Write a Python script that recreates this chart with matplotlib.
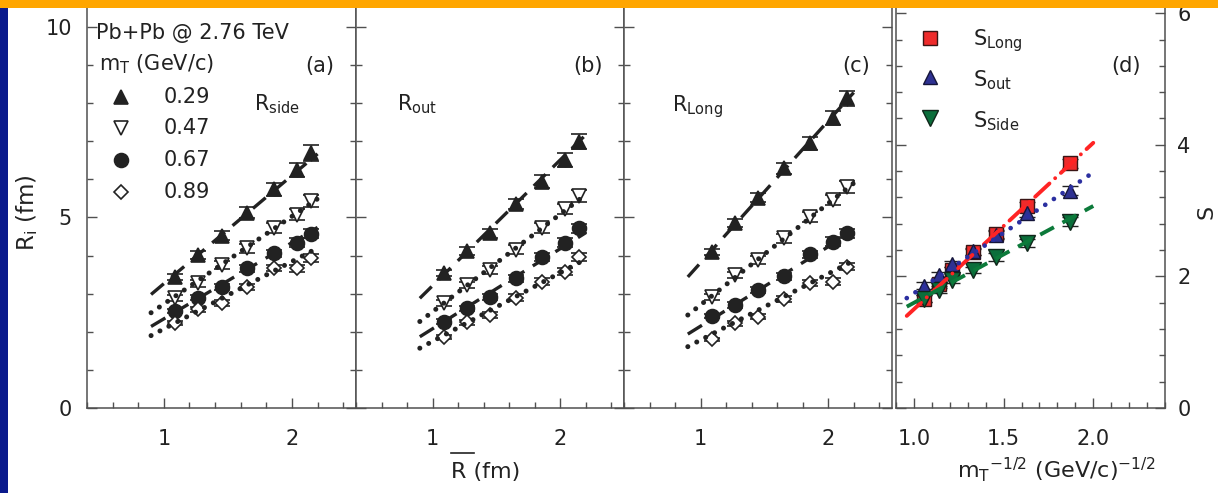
import matplotlib
matplotlib.use("Agg")
import matplotlib.pyplot as plt
from matplotlib.lines import Line2D
from matplotlib.patches import Rectangle
from matplotlib.ticker import MultipleLocator

plt.rcParams["font.family"] = ["DejaVu Sans"]
plt.rcParams["mathtext.fontset"] = "dejavusans"

W, H = 1218, 493
INK = "#222222"
SPINE = "#505050"

# ---- HBT radii vs. mean initial size (fm) for four m_T bins ----
rbar = [1.09, 1.27, 1.45, 1.65, 1.86, 2.04, 2.15]
mt_labels = ["0.29", "0.47", "0.67", "0.89"]

r_side_029 = [3.45, 4.02, 4.52, 5.13, 5.74, 6.25, 6.69]
r_side_047 = [2.88, 3.27, 3.75, 4.19, 4.72, 5.07, 5.43]
r_side_067 = [2.55, 2.90, 3.18, 3.67, 4.06, 4.34, 4.58]
r_side_089 = [2.24, 2.59, 2.76, 3.18, 3.67, 3.67, 3.93]

r_out_029 = [3.55, 4.12, 4.59, 5.35, 5.94, 6.51, 6.99]
r_out_047 = [2.76, 3.23, 3.62, 4.15, 4.72, 5.22, 5.56]
r_out_067 = [2.27, 2.62, 2.92, 3.40, 3.97, 4.34, 4.72]
r_out_089 = [1.86, 2.25, 2.44, 2.90, 3.32, 3.58, 3.96]

r_long_029 = [4.10, 4.85, 5.52, 6.29, 6.95, 7.62, 8.13]
r_long_047 = [2.92, 3.49, 3.88, 4.45, 5.02, 5.46, 5.81]
r_long_067 = [2.41, 2.70, 3.10, 3.46, 4.03, 4.37, 4.59]
r_long_089 = [1.80, 2.22, 2.40, 2.85, 3.29, 3.32, 3.71]

err_029 = [0.08, 0.10, 0.12, 0.14, 0.17, 0.18, 0.20]
err_047 = [0.08, 0.09, 0.10, 0.12, 0.13, 0.14, 0.16]
err_067 = [0.06, 0.07, 0.08, 0.09, 0.10, 0.11, 0.12]
err_089 = [0.05, 0.06, 0.07, 0.08, 0.08, 0.09, 0.10]

# linear fits: (value at start, value at end) over fit_rbar
fit_rbar = [0.9, 2.2]
side_fits = [(2.98, 6.67), (2.50, 5.49), (2.14, 4.74), (1.90, 4.20)]
out_fits = [(2.88, 7.17), (2.27, 5.60), (1.87, 4.60), (1.57, 3.91)]
long_fits = [(3.44, 8.28), (2.44, 5.90), (1.94, 4.65), (1.61, 3.87)]

# ---- slopes vs. m_T^-1/2 ----
inv_sqrt_mt = [1.056, 1.14, 1.215, 1.328, 1.455, 1.631, 1.871]
s_long = [1.66, 1.88, 2.09, 2.37, 2.65, 3.07, 3.72]
s_out = [1.86, 2.02, 2.19, 2.38, 2.63, 2.97, 3.30]
s_side = [1.66, 1.80, 1.95, 2.10, 2.29, 2.51, 2.83]
s_err = [0.05, 0.05, 0.05, 0.05, 0.06, 0.06, 0.07]

fit_mt = [0.96, 2.0]
s_long_fit = (1.40, 4.03)
s_out_fit = (1.67, 3.58)
s_side_fit = (1.54, 3.07)

fig = plt.figure(figsize=(W / 100, H / 100), dpi=100)
fig.patch.set_facecolor("white")


def fx(px):
    return px / W


def fy(py):
    return 1 - py / H


def rect(left, right, bottom=408, top=0):
    return [fx(left), fy(bottom), (right - left) / W, (bottom - top) / H]


marker_styles = [
    dict(marker="^", mfc=INK, ms=10),
    dict(marker="v", mfc="white", ms=10),
    dict(marker="o", mfc=INK, ms=10),
    dict(marker="D", mfc="white", ms=7.5),
]
DASH = dict(color=INK, lw=2.4, linestyle=(0, (5, 3)), dash_capstyle="butt")
DOT = dict(color=INK, lw=3.6, linestyle=(0, (0.01, 2.0)), dash_capstyle="round")
line_styles = [DASH, DOT, DASH, DOT]


def style_axes(ax):
    for s in ax.spines.values():
        s.set_color(SPINE)
        s.set_linewidth(1.1)
    ax.spines["top"].set_visible(False)
    ax.tick_params(which="both", direction="in", left=True, right=True,
                   top=False, bottom=True, color=SPINE, labelcolor=INK,
                   labelsize=15, width=1.0)
    ax.tick_params(which="major", length=7)
    ax.tick_params(which="minor", length=4.5)
    ax.tick_params(axis="x", pad=15)


def radius_panel(ax, series, fits, first):
    errs = [err_029, err_047, err_067, err_089]
    for vals, err, st, fit, ls in zip(series, errs, marker_styles, fits, line_styles):
        ax.errorbar(rbar, vals, yerr=err, fmt=st["marker"], ms=st["ms"],
                    mfc=st["mfc"], mec=INK, mew=1.2, ecolor=INK,
                    elinewidth=1.0, capsize=6, capthick=1.4, zorder=3)
        ax.plot(fit_rbar, fit, zorder=4, **ls)
    ax.set_xlim(0.4, 2.5)
    ax.set_ylim(0, 408 / 38.1)
    ax.xaxis.set_major_locator(MultipleLocator(1))
    ax.xaxis.set_minor_locator(MultipleLocator(0.2))
    ax.yaxis.set_major_locator(MultipleLocator(5))
    ax.yaxis.set_minor_locator(MultipleLocator(1))
    style_axes(ax)
    ax.tick_params(axis="y", pad=11, labelleft=first)


ax_a = fig.add_axes(rect(87, 356))
ax_b = fig.add_axes(rect(356, 624))
ax_c = fig.add_axes(rect(624, 892))
ax_d = fig.add_axes(rect(896, 1165))

radius_panel(ax_a, [r_side_029, r_side_047, r_side_067, r_side_089], side_fits, True)
radius_panel(ax_b, [r_out_029, r_out_047, r_out_067, r_out_089], out_fits, False)
radius_panel(ax_c, [r_long_029, r_long_047, r_long_067, r_long_089], long_fits, False)

# ---- panel (d) ----
RED, BLUE, GREEN = "#ee2b2b", "#2e3192", "#0b6e3b"
ax_d.plot(fit_mt, s_long_fit, color="#ff2424", lw=2.8,
          linestyle=(0, (5, 2, 0.01, 2)), dash_capstyle="round", zorder=4)
ax_d.plot(fit_mt, s_out_fit, color="#2b2fa0", lw=3.4,
          linestyle=(0, (0.01, 2.2)), dash_capstyle="round", zorder=4)
ax_d.plot(fit_mt, s_side_fit, color="#0c7a3a", lw=2.8,
          linestyle=(0, (4, 2.5)), dash_capstyle="butt", zorder=4)
ax_d.errorbar(inv_sqrt_mt, s_long, yerr=s_err, fmt="s", ms=9.5, mfc=RED,
              mec="#3a1515", mew=1.0, ecolor=INK, elinewidth=1.0, capsize=6,
              capthick=1.3, zorder=3)
ax_d.errorbar(inv_sqrt_mt, s_out, yerr=s_err, fmt="^", ms=10.5, mfc=BLUE,
              mec="#15153a", mew=1.0, ecolor=INK, elinewidth=1.0, capsize=6,
              capthick=1.3, zorder=3)
ax_d.errorbar(inv_sqrt_mt, s_side, yerr=s_err, fmt="v", ms=11, mfc=GREEN,
              mec="#10261a", mew=1.0, ecolor=INK, elinewidth=1.0, capsize=6,
              capthick=1.3, zorder=3)
ax_d.set_xlim(0.9, 2.4)
ax_d.set_ylim(0, 408 / 65.8)
ax_d.xaxis.set_major_locator(MultipleLocator(0.5))
ax_d.xaxis.set_minor_locator(MultipleLocator(0.1))
ax_d.yaxis.set_major_locator(MultipleLocator(2))
ax_d.yaxis.set_minor_locator(MultipleLocator(0.4))
style_axes(ax_d)
ax_d.tick_params(axis="y", labelleft=False, labelright=True, pad=9)

# ---- annotations ----
TXT = dict(color=INK, fontsize=15)
fig.text(fx(96), fy(33), "Pb+Pb @ 2.76 TeV", ha="left", va="center", **TXT)
fig.text(fx(99), fy(64), r"m$_{\mathrm{T}}$ (GeV/c)", ha="left", va="center", **TXT)
for letter, xc in (("(a)", 320), ("(b)", 588), ("(c)", 856), ("(d)", 1126)):
    fig.text(fx(xc), fy(66), letter, ha="center", va="center", **TXT)

legend_y = [97, 128, 160, 192]
for label, st, yy in zip(mt_labels, marker_styles, legend_y):
    fig.add_artist(Line2D([fx(121)], [fy(yy)], marker=st["marker"], ms=st["ms"],
                          mfc=st["mfc"], mec=INK, mew=1.2, linestyle="none"))
    fig.text(fx(164), fy(yy), label, ha="left", va="center", **TXT)

fig.text(fx(254), fy(104), r"R$_{\mathrm{side}}$", ha="left", va="center", **TXT)
fig.text(fx(397), fy(104), r"R$_{\mathrm{out}}$", ha="left", va="center", **TXT)
fig.text(fx(672), fy(107), r"R$_{\mathrm{Long}}$", ha="left", va="center", **TXT)

s_legend = [("s", RED, "#3a1515", 9.5, r"S$_{\mathrm{Long}}$", 38),
            ("^", BLUE, "#15153a", 10.5, r"S$_{\mathrm{out}}$", 77),
            ("v", GREEN, "#10261a", 11, r"S$_{\mathrm{Side}}$", 118)]
for mk, fc, ec, ms, label, yy in s_legend:
    fig.add_artist(Line2D([fx(930)], [fy(yy)], marker=mk, ms=ms, mfc=fc,
                          mec=ec, mew=1.0, linestyle="none"))
    fig.text(fx(973), fy(yy + 3), label, ha="left", va="center", **TXT)

# axis titles
fig.text(fx(27), fy(213), r"R$_{\mathrm{i}}$ (fm)", rotation=90, ha="center",
         va="center", color=INK, fontsize=16.5)
fig.text(fx(451), fy(472), "R (fm)", ha="left", va="center", color=INK, fontsize=16)
fig.add_artist(Line2D([fx(451), fx(474)], [fy(453), fy(453)], color=INK, lw=1.2))
fig.text(fx(1056), fy(470), r"m$_{\mathrm{T}}$$^{\mathrm{-1/2}}$ (GeV/c)$^{\mathrm{-1/2}}$",
         ha="center", va="center", color=INK, fontsize=16)
fig.text(fx(1207), fy(212), "S", rotation=90, ha="center", va="center",
         color=INK, fontsize=16)

# slide frame: orange top band and blue left strip
fig.add_artist(Rectangle((0, fy(8)), 1, 8 / H, transform=fig.transFigure,
                         facecolor="#ffa600", edgecolor="none", zorder=20))
fig.add_artist(Rectangle((0, 0), fx(8), fy(8), transform=fig.transFigure,
                         facecolor="#0a1a8c", edgecolor="none", zorder=20))

fig.savefig("out.png", dpi=100)
